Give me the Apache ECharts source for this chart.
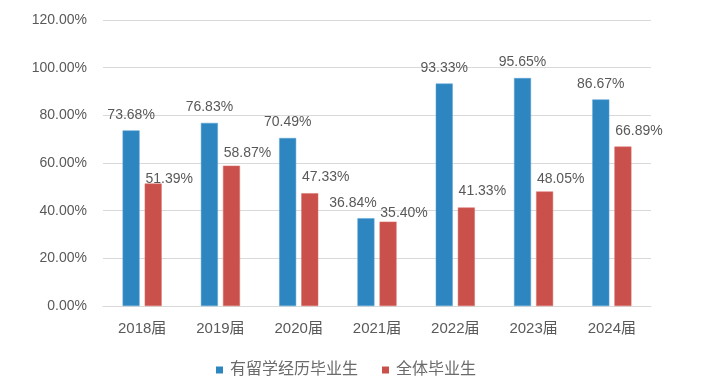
<!DOCTYPE html>
<html><head><meta charset="utf-8">
<script src="https://cdn.jsdelivr.net/npm/echarts@6/dist/echarts.min.js"></script>
<style>html,body{margin:0;padding:0;background:#fff}#c{width:703px;height:380px}</style>
</head><body><div id="c"></div>
<script>
const categories = ['2018届','2019届','2020届','2021届','2022届','2023届','2024届'];
const seriesNames = ['有留学经历毕业生','全体毕业生'];
const abroadValues = [73.68, 76.83, 70.49, 36.84, 93.33, 95.65, 86.67];
const allValues = [51.39, 58.87, 47.33, 35.40, 41.33, 48.05, 66.89];
const yTicks = [0, 20, 40, 60, 80, 100, 120];

// label layout (not data): vertical lift and horizontal nudge per category
const redLift = [-2.5, 6, 8.7, 1.6, 9.5, 5.5, 8.6];
const blueNudge = [0, 0, 0, -13, 0, 0, 0];

const FONT = '"Liberation Sans", "Noto Sans CJK SC", sans-serif';
const TXT = '#595959';

const chart = echarts.init(document.getElementById('c'), null, {renderer:'canvas'});
chart.setOption({
  animation: false,
  textStyle: {fontFamily: FONT},
  grid: {left: 103, right: 52, top: 20, bottom: 74, containLabel: false},
  legend: {
    data: seriesNames,
    left: 211, top: 357,
    icon: 'rect', itemWidth: 7, itemHeight: 7, itemGap: 24,
    itemStyle: {borderWidth: 0},
    textStyle: {fontSize: 16, color: '#6b6b6b', fontFamily: FONT, padding: [0,0,0,2]}
  },
  xAxis: {
    type: 'category', data: categories,
    axisLine: {lineStyle: {color: '#d9d9d9', width: 1}},
    axisTick: {show: false},
    axisLabel: {fontSize: 15, color: TXT, margin: 15, fontFamily: FONT}
  },
  yAxis: {
    type: 'value', min: yTicks[0], max: yTicks[yTicks.length-1], interval: 20,
    axisLine: {show: false}, axisTick: {show: false},
    splitLine: {lineStyle: {color: '#d9d9d9', width: 1}},
    axisLabel: {fontSize: 14, color: TXT, margin: 16, fontFamily: FONT,
      formatter: v => v.toFixed(2) + '%'}
  },
  series: [
    {
      name: seriesNames[0], type: 'bar', barWidth: 17, barGap: '30%',
      itemStyle: {color: '#2E86C1', borderColor: '#5AA3D6', borderWidth: 0.5},
      data: abroadValues.map((v, i) => ({
        value: v,
        label: {offset: [blueNudge[i], 0]}
      })),
      label: {show: true, position: 'top', distance: 8.5, fontSize: 14, color: TXT,
        fontFamily: FONT, formatter: p => p.value.toFixed(2) + '%'}
    },
    {
      name: seriesNames[1], type: 'bar', barWidth: 17,
      itemStyle: {color: '#C9504B', borderColor: '#D9706B', borderWidth: 0.5},
      data: allValues.map((v, i) => ({
        value: v,
        label: {offset: [16, -redLift[i]]}
      })),
      label: {show: true, position: 'top', distance: 0, fontSize: 14, color: TXT,
        fontFamily: FONT, formatter: p => p.value.toFixed(2) + '%'}
    }
  ]
});
</script></body></html>
